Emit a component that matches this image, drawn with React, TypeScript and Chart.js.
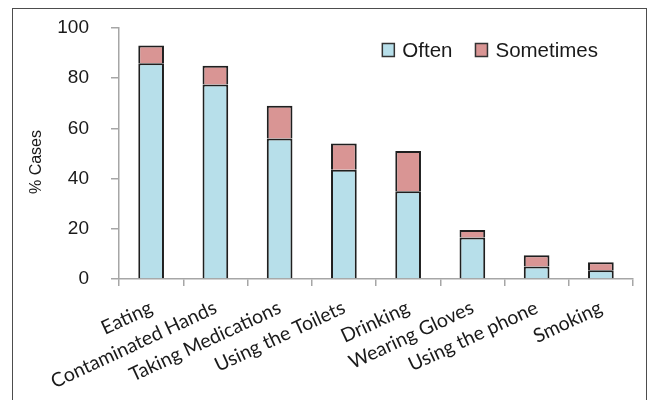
import React, { useEffect, useRef } from "react";
import { Chart, registerables } from "chart.js";

Chart.register(...registerables);

const categories = [
  "Eating",
  "Contaminated Hands",
  "Taking Medications",
  "Using the Toilets",
  "Drinking",
  "Wearing Gloves",
  "Using the phone",
  "Smoking",
];
const often = [86, 77.5, 56, 43.5, 35, 16.5, 5, 3.5];
const sometimes = [7, 7.5, 13, 10.5, 16, 3, 4.5, 3.2];
const yTicks = [0, 20, 40, 60, 80, 100];
const yTitle = "% Cases";

const legendFont = "20.5px 'Liberation Sans', Arial, sans-serif";
const titleFont = "16px 'Liberation Sans', Arial, sans-serif";
const PLOT_TOP = 28;

const fixTop = {
  id: "fixTop",
  afterLayout(chart: any) {
    const y = chart.scales.y;
    const area = chart.chartArea;
    if (!y || !area) return;
    area.top = PLOT_TOP;
    area.height = area.bottom - area.top;
    y.top = PLOT_TOP;
    y.height = y.bottom - y.top;
    y.configure();
  },
};

const overlays = {
  id: "overlays",
  afterDraw(chart: any) {
    const { ctx, chartArea } = chart;
    const sets = chart.data.datasets;
    ctx.save();
    // y-axis title
    ctx.font = titleFont;
    ctx.fillStyle = "#1a1a1a";
    ctx.textAlign = "center";
    ctx.textBaseline = "middle";
    ctx.translate(37, 162);
    ctx.rotate(-Math.PI / 2);
    ctx.fillText(yTitle, 0, 0);
    ctx.restore();

    // legend inside plot area, top right
    ctx.save();
    ctx.font = legendFont;
    ctx.textBaseline = "middle";
    ctx.textAlign = "left";
    const boxW = 12;
    const boxH = 13;
    const gapText = 8;
    const gapItem = 23;
    let total = 0;
    sets.forEach((d: any, i: number) => {
      total += boxW + gapText + ctx.measureText(d.label).width;
      if (i < sets.length - 1) total += gapItem;
    });
    let x = chartArea.right - 35 - total;
    const yMid = 50;
    sets.forEach((d: any) => {
      ctx.fillStyle = d.backgroundColor;
      ctx.fillRect(x, yMid - boxH / 2, boxW, boxH);
      ctx.strokeStyle = "#333333";
      ctx.lineWidth = 1.5;
      ctx.strokeRect(x, yMid - boxH / 2, boxW, boxH);
      x += boxW + gapText;
      ctx.fillStyle = "#1a1a1a";
      ctx.fillText(d.label, x, yMid + 1);
      x += ctx.measureText(d.label).width + gapItem;
    });
    ctx.restore();
  },
};

export default function App() {
  const ref = useRef<HTMLCanvasElement | null>(null);

  useEffect(() => {
    if (!ref.current) return;
    const axisColor = "#a6a6a6";
    const chart = new Chart(ref.current, {
      type: "bar",
      data: {
        labels: categories,
        datasets: [
          {
            label: "Often",
            data: often,
            backgroundColor: "#b7dfea",
            borderColor: "#1f1f1f",
            borderWidth: 2,
            barPercentage: 0.4,
            categoryPercentage: 1,
          },
          {
            label: "Sometimes",
            data: sometimes,
            backgroundColor: "#d99594",
            borderColor: "#1f1f1f",
            borderWidth: 2,
            barPercentage: 0.4,
            categoryPercentage: 1,
          },
        ],
      },
      plugins: [fixTop, overlays],
      options: {
        animation: false,
        responsive: false,
        maintainAspectRatio: false,
        layout: { padding: { left: 0, top: 28, right: 16, bottom: 0 } },
        plugins: {
          tooltip: { enabled: false },
          legend: { display: false },
        },
        scales: {
          x: {
            stacked: true,
            grid: {
              offset: true,
              drawOnChartArea: false,
              drawTicks: true,
              tickLength: 7,
              color: axisColor,
              lineWidth: 1.5,
            },
            border: { display: true, color: axisColor, width: 1.5 },
            ticks: {
              autoSkip: false,
              minRotation: 25,
              maxRotation: 25,
              padding: 10,
              color: "#1a1a1a",
              font: { family: "Lato, 'Open Sans', sans-serif", size: 19.5 },
            },
            afterFit: (s: any) => {
              s.height = 121;
            },
          },
          y: {
            stacked: true,
            min: 0,
            max: 100,
            grid: {
              drawOnChartArea: false,
              drawTicks: true,
              tickLength: 8,
              color: axisColor,
              lineWidth: 1.5,
            },
            border: { display: true, color: axisColor, width: 1.5 },
            afterBuildTicks: (s: any) => {
              s.ticks = yTicks.map((v) => ({ value: v }));
            },
            ticks: {
              padding: 22,
              color: "#1a1a1a",
              font: { family: "'Liberation Sans', Arial, sans-serif", size: 19 },
            },
            afterFit: (s: any) => {
              s.width = 119;
            },
          },
        },
      },
    });
    return () => chart.destroy();
  }, []);

  return (
    <div>
      <div
        style={{
          position: "absolute",
          left: 12,
          top: 8,
          width: 635,
          height: 400,
          borderTop: "1px solid #4d4d4d",
          borderLeft: "1px solid #4d4d4d",
          borderRight: "1px solid #4d4d4d",
          boxSizing: "border-box",
        }}
      />
      <canvas
        ref={ref}
        width={649}
        height={400}
        style={{ position: "absolute", left: 0, top: 0, width: 649, height: 400 }}
      />
    </div>
  );
}
